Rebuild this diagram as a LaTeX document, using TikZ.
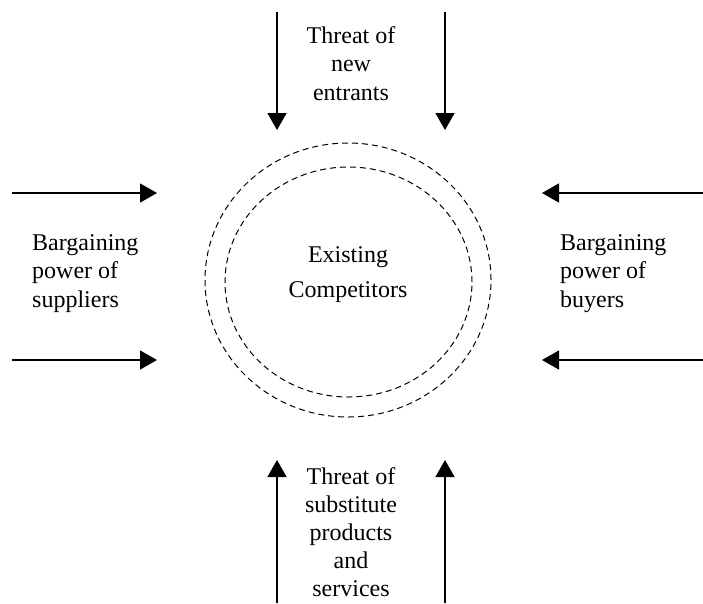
\documentclass[tikz,border=0pt]{standalone}
\usepackage{fontspec}
\setmainfont{Liberation Serif}
\usetikzlibrary{arrows.meta}

\begin{document}
\begin{tikzpicture}[x=1pt,y=-1pt,
  font=\fontsize{24}{28.5}\selectfont,
  lbl/.style={align=center,inner sep=0pt,anchor=base},
  side/.style={align=left,inner sep=0pt,anchor=base west},
  ring/.style={dash pattern=on 6pt off 4pt,line width=1pt},
  force/.style={-{Triangle[length=17pt,width=19pt]},line width=1.4pt}]
  \useasboundingbox (0,0) rectangle (703,603);
  % rivalry rings
  \draw[ring] (348,280) ellipse [x radius=143pt,y radius=137pt];
  \draw[ring] (348.5,282) ellipse [x radius=123.5pt,y radius=115pt];
  \node[lbl,font=\fontsize{24}{35}\selectfont] (rivals) at (348,297) {Existing\\Competitors};
  % the four forces (base = last line)
  \node[lbl] (entry) at (351,100) {Threat of\\new\\entrants};
  \node[lbl,font=\fontsize{24}{28}\selectfont] (subst) at (351,596) {Threat of\\substitute\\products\\and\\services};
  \node[side] (supp) at (32,307) {Bargaining\\power of\\suppliers};
  \node[side] (buy) at (560,307) {Bargaining\\power of\\buyers};
  % arrow ends
  \coordinate (n1) at (277,12);   \coordinate (n1e) at (277,130);
  \coordinate (n2) at (445,12);   \coordinate (n2e) at (445,130);
  \coordinate (s1) at (277,603);  \coordinate (s1e) at (277,460);
  \coordinate (s2) at (445,603);  \coordinate (s2e) at (445,460);
  \coordinate (w1) at (12,193);   \coordinate (w1e) at (157,193);
  \coordinate (w2) at (12,360);   \coordinate (w2e) at (157,360);
  \coordinate (e1) at (703,193);  \coordinate (e1e) at (542,193);
  \coordinate (e2) at (703,360);  \coordinate (e2e) at (542,360);
  \foreach \a in {n1,n2,s1,s2,w1,w2,e1,e2}
    \draw[force] (\a) -- (\a e);
\end{tikzpicture}
\end{document}
